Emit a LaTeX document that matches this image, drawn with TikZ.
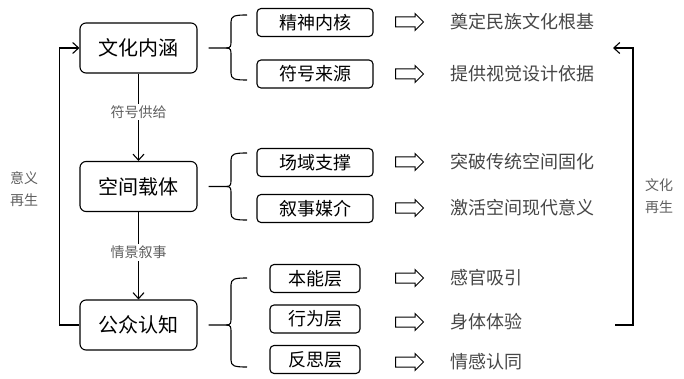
\documentclass[tikz,border=0pt]{standalone}
\usepackage{fontspec}
\setmainfont{Noto Sans CJK SC}
\usepackage{tikz}
\usetikzlibrary{arrows.meta,positioning,calc,shapes.arrows}
\definecolor{txtgray}{RGB}{70,70,70}
\definecolor{lblgray}{RGB}{95,95,95}
\tikzset{
  mainbox/.style={draw, line width=1.1pt, rounded corners=6pt, minimum width=117pt, minimum height=50pt, inner sep=0pt, font=\fontsize{20}{24}\selectfont},
  subbox/.style={draw, line width=1.1pt, rounded corners=4pt, minimum width=116pt, minimum height=28pt, inner sep=0pt, font=\fontsize{18}{22}\selectfont},
  layerbox/.style={subbox, minimum width=90pt},
  rtext/.style={anchor=west, text=txtgray, inner sep=0pt, font=\fontsize{18}{22}\selectfont},
  flowlbl/.style={fill=white, text=lblgray, inner sep=2pt, font=\fontsize{14}{17}\selectfont},
  sidelbl/.style={align=center, text=lblgray, inner sep=0pt, font=\fontsize{14}{22}\selectfont},
  openarr/.style={single arrow, draw, line width=1pt, inner sep=4.5pt, single arrow head extend=3.5pt, minimum height=28pt},
  flow/.style={line width=1.1pt, -{Straight Barb[length=6pt,width=11pt]}},
  brc/.style={line width=1.1pt}
}
% brace from a main box: #1 node, #2 tip y, #3 top y, #4 bottom y
\newcommand{\kbrace}[4]{%
  \draw[brc] ([xshift=11pt]#1.east) -- (226,#2) .. controls (231,#2) and (231,#2-2) .. (231,#2-7) -- (231,#3+7) .. controls (231,#3+1) and (234,#3) .. (247,#3);
  \draw[brc] (226,#2) .. controls (231,#2) and (231,#2+2) .. (231,#2+7) -- (231,#4-7) .. controls (231,#4-1) and (234,#4) .. (247,#4);}
\begin{document}
\begin{tikzpicture}[x=1pt, y=-1pt]
\useasboundingbox (0,0) rectangle (684,379);
% main chain
\node[mainbox] (wh) at (138.5,48) {文化内涵};
\node[mainbox] (kj) at (138.5,186.5) {空间载体};
\node[mainbox] (gz) at (138.5,325) {公众认知};
\draw[flow] (wh) -- node[flowlbl, pos=0.44] {符号供给} (kj);
\draw[flow] (kj) -- node[flowlbl, pos=0.46] {情景叙事} (gz);
% left loop
\draw[flow] (gz.west) -- ++(-20,0) |- (wh.west);
\node[sidelbl] (yy) at (24,189) {意义\\再生};
% sub items
\node[subbox] (jsnh) at (315,22.5) {精神内核};
\node[subbox] (fhly) at (315,74) {符号来源};
\node[subbox] (cyzc) at (315,162.5) {场域支撑};
\node[subbox] (xsmj) at (315,208.5) {叙事媒介};
\node[layerbox] (bnc) at (315,278.5) {本能层};
\node[layerbox] (xwc) at (315,319) {行为层};
\node[layerbox] (fsc) at (315,359.5) {反思层};
\kbrace{wh}{48}{15}{80}
\kbrace{kj}{186.5}{153}{220}
\kbrace{gz}{325}{278}{367}
% results
\foreach \y/\t/\n in {22/奠定民族文化根基/r1, 74/提供视觉设计依据/r2, 162/突破传统空间固化/r3, 208/激活空间现代意义/r4, 278/感官吸引/r5, 322/身体体验/r6, 362/情感认同/r7} {
  \node[openarr] (a\n) at (407,\y) {};
  \node[rtext] (\n) at (450,\y) {\t};
}
% right loop
\coordinate (rb) at (615,325);
\coordinate (rt) at (613,48);
\draw[flow] (rb) -- ++(18,0) |- (rt);
\node[sidelbl] (wz) at (659,196) {文化\\再生};
\end{tikzpicture}
\end{document}
